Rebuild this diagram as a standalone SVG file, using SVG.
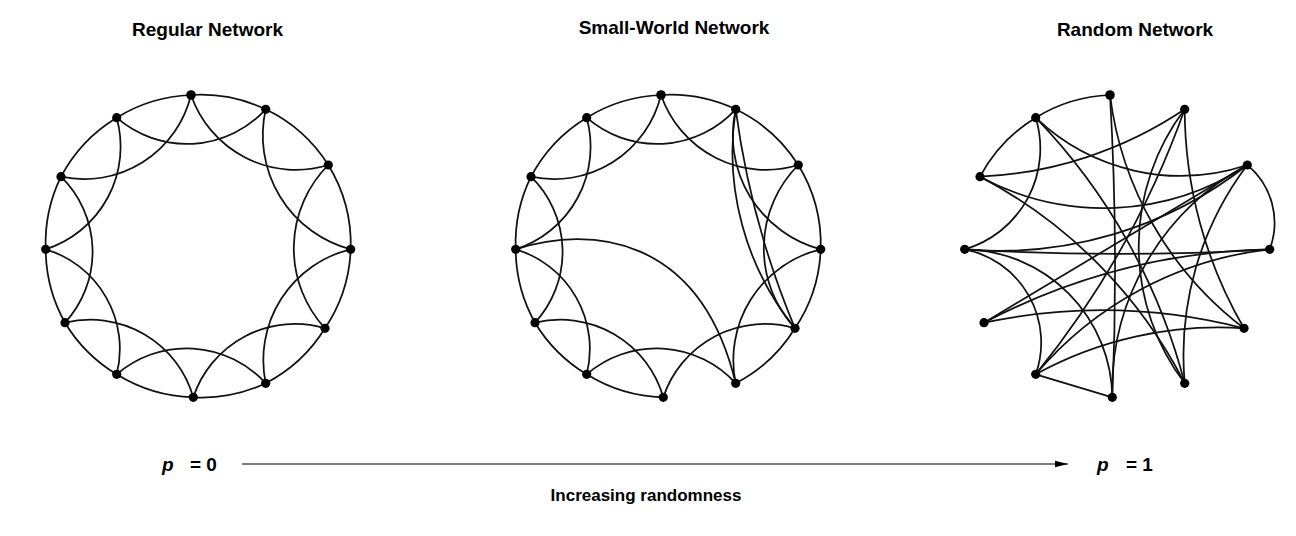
<svg xmlns="http://www.w3.org/2000/svg" width="1296" height="536" viewBox="0 0 1296 536">
<defs>
<style>
.e{fill:none;stroke:#111;stroke-width:1.75}
.n{fill:#000}
.t{font-family:"Liberation Sans",Arial,sans-serif;font-weight:bold;fill:#000}
.ax{stroke:#000;stroke-width:1.2;fill:none}
</style>
<marker id="ah" markerUnits="userSpaceOnUse" markerWidth="14" markerHeight="8" refX="13" refY="4" orient="auto">
<path d="M0,0.8 L13,4 L0,7.2 z" fill="#000"/>
</marker>
</defs>
<rect width="1296" height="536" fill="#fff"/>

<text class="t" x="207.5" y="36" font-size="19" text-anchor="middle">Regular Network</text>
<text class="t" x="674" y="34" font-size="19" text-anchor="middle">Small-World Network</text>
<text class="t" x="1135" y="36" font-size="19" text-anchor="middle">Random Network</text>

<!-- Regular network -->
<g id="regular">
<g id="regular-connectors">
<path class="e" d="M191,95 A152,152 0 0 1 265.7,109.3"/>
<path class="e" d="M265.7,109.3 A152,152 0 0 1 328.3,165"/>
<path class="e" d="M328.3,165 A152,152 0 0 1 350.7,249.3"/>
<path class="e" d="M350.7,249.3 A152,152 0 0 1 325,328.3"/>
<path class="e" d="M325,328.3 A152,152 0 0 1 265.7,383.3"/>
<path class="e" d="M265.7,383.3 A152,152 0 0 1 193.3,397.3"/>
<path class="e" d="M193.3,397.3 A152,152 0 0 1 116.7,374.3"/>
<path class="e" d="M116.7,374.3 A152,152 0 0 1 65,322.7"/>
<path class="e" d="M65,322.7 A152,152 0 0 1 45.7,249.3"/>
<path class="e" d="M45.7,249.3 A152,152 0 0 1 61,176.7"/>
<path class="e" d="M61,176.7 A152,152 0 0 1 116.7,117.7"/>
<path class="e" d="M116.7,117.7 A152,152 0 0 1 191,95"/>
<path class="e" d="M191,95 A111,111 0 0 0 328.3,165"/>
<path class="e" d="M265.7,109.3 A118,118 0 0 0 350.7,249.3"/>
<path class="e" d="M328.3,165 A118,118 0 0 0 325,328.3"/>
<path class="e" d="M350.7,249.3 A114,114 0 0 0 265.7,383.3"/>
<path class="e" d="M325,328.3 A107,107 0 0 0 193.3,397.3"/>
<path class="e" d="M265.7,383.3 A107,107 0 0 0 116.7,374.3"/>
<path class="e" d="M193.3,397.3 A107,107 0 0 0 65,322.7"/>
<path class="e" d="M116.7,374.3 A104,104 0 0 0 45.7,249.3"/>
<path class="e" d="M65,322.7 A105,105 0 0 0 61,176.7"/>
<path class="e" d="M45.7,249.3 A108,108 0 0 0 116.7,117.7"/>
<path class="e" d="M61,176.7 A110,110 0 0 0 191,95"/>
<path class="e" d="M116.7,117.7 A107,107 0 0 0 265.7,109.3"/>
</g>
<g id="reg-n1"><circle class="n" cx="191" cy="95" r="4.8"/></g>
<g id="reg-n2"><circle class="n" cx="265.7" cy="109.3" r="4.6"/></g>
<g id="reg-n3"><circle class="n" cx="328.3" cy="165" r="4.6"/></g>
<g id="reg-n4"><circle class="n" cx="350.7" cy="249.3" r="4.6"/></g>
<g id="reg-n5"><circle class="n" cx="325" cy="328.3" r="4.6"/></g>
<g id="reg-n6"><circle class="n" cx="265.7" cy="383.3" r="4.6"/></g>
<g id="reg-n7"><circle class="n" cx="193.3" cy="397.3" r="4.6"/></g>
<g id="reg-n8"><circle class="n" cx="116.7" cy="374.3" r="4.6"/></g>
<g id="reg-n9"><circle class="n" cx="65" cy="322.7" r="4.6"/></g>
<g id="reg-n10"><circle class="n" cx="45.7" cy="249.3" r="4.6"/></g>
<g id="reg-n11"><circle class="n" cx="61" cy="176.7" r="4.6"/></g>
<g id="reg-n12"><circle class="n" cx="116.7" cy="117.7" r="4.6"/></g>
</g>

<!-- Small-world network -->
<g id="smallworld" transform="translate(470,0)">
<g id="smallworld-connectors">
<path class="e" d="M191,95 A152,152 0 0 1 265.7,109.3"/>
<path class="e" d="M265.7,109.3 A152,152 0 0 1 328.3,165"/>
<path class="e" d="M328.3,165 A152,152 0 0 1 350.7,249.3"/>
<path class="e" d="M350.7,249.3 A152,152 0 0 1 325,328.3"/>
<path class="e" d="M325,328.3 A152,152 0 0 1 265.7,383.3"/>
<path class="e" d="M193.3,397.3 A152,152 0 0 1 116.7,374.3"/>
<path class="e" d="M116.7,374.3 A152,152 0 0 1 65,322.7"/>
<path class="e" d="M65,322.7 A152,152 0 0 1 45.7,249.3"/>
<path class="e" d="M45.7,249.3 A152,152 0 0 1 61,176.7"/>
<path class="e" d="M61,176.7 A152,152 0 0 1 116.7,117.7"/>
<path class="e" d="M116.7,117.7 A152,152 0 0 1 191,95"/>
<path class="e" d="M191,95 A111,111 0 0 0 328.3,165"/>
<path class="e" d="M265.7,109.3 A118,118 0 0 0 350.7,249.3"/>
<path class="e" d="M328.3,165 A118,118 0 0 0 325,328.3"/>
<path class="e" d="M350.7,249.3 A114,114 0 0 0 265.7,383.3"/>
<path class="e" d="M325,328.3 A107,107 0 0 0 193.3,397.3"/>
<path class="e" d="M265.7,383.3 A107,107 0 0 0 116.7,374.3"/>
<path class="e" d="M193.3,397.3 A107,107 0 0 0 65,322.7"/>
<path class="e" d="M116.7,374.3 A104,104 0 0 0 45.7,249.3"/>
<path class="e" d="M65,322.7 A105,105 0 0 0 61,176.7"/>
<path class="e" d="M45.7,249.3 A108,108 0 0 0 116.7,117.7"/>
<path class="e" d="M61,176.7 A110,110 0 0 0 191,95"/>
<path class="e" d="M116.7,117.7 A107,107 0 0 0 265.7,109.3"/>
<path class="e" d="M45.7,249.3 C120,225 230,235 265.7,383.3"/>
<path class="e" d="M265.7,109.3 A280,280 0 0 0 325,328.3"/>
<path class="e" d="M265.7,109.3 A860,860 0 0 0 325,328.3"/>
</g>
<g id="sw-n1"><circle class="n" cx="191" cy="95" r="4.8"/></g>
<g id="sw-n2"><circle class="n" cx="265.7" cy="109.3" r="4.6"/></g>
<g id="sw-n3"><circle class="n" cx="328.3" cy="165" r="4.6"/></g>
<g id="sw-n4"><circle class="n" cx="350.7" cy="249.3" r="4.6"/></g>
<g id="sw-n5"><circle class="n" cx="325" cy="328.3" r="4.6"/></g>
<g id="sw-n6"><circle class="n" cx="265.7" cy="383.3" r="4.6"/></g>
<g id="sw-n7"><circle class="n" cx="193.3" cy="397.3" r="4.6"/></g>
<g id="sw-n8"><circle class="n" cx="116.7" cy="374.3" r="4.6"/></g>
<g id="sw-n9"><circle class="n" cx="65" cy="322.7" r="4.6"/></g>
<g id="sw-n10"><circle class="n" cx="45.7" cy="249.3" r="4.6"/></g>
<g id="sw-n11"><circle class="n" cx="61" cy="176.7" r="4.6"/></g>
<g id="sw-n12"><circle class="n" cx="116.7" cy="117.7" r="4.6"/></g>
</g>

<!-- Random network -->
<g id="random" transform="translate(919,0)">
<g id="random-connectors">
<path class="e" d="M116.7,117.7 A152,152 0 0 1 191,95"/>
<path class="e" d="M61,176.7 A152,152 0 0 1 116.7,117.7"/>
<path class="e" d="M45.7,249.3 A105,105 0 0 0 116.7,117.7"/>
<path class="e" d="M116.7,117.7 A210,210 0 0 0 328.3,165"/>
<path class="e" d="M116.7,117.7 A600,600 0 0 1 265.7,383.3"/>
<path class="e" d="M61,176.7 A400,400 0 0 0 265.7,109.3"/>
<path class="e" d="M61,176.7 A260,260 0 0 0 328.3,165"/>
<path class="e" d="M265.7,383.3 A480,480 0 0 0 61,176.7"/>
<path class="e" d="M45.7,249.3 A400,400 0 0 0 328.3,165"/>
<path class="e" d="M45.7,249.3 A2500,2500 0 0 0 350.7,249.3"/>
<path class="e" d="M116.7,374.3 A95,95 0 0 0 45.7,249.3"/>
<path class="e" d="M193.3,397.3 A150,150 0 0 0 45.7,249.3"/>
<path class="e" d="M65,322.7 L328.3,165"/>
<path class="e" d="M350.7,249.3 A640,640 0 0 0 65,322.7"/>
<path class="e" d="M325,328.3 A570,570 0 0 0 65,322.7"/>
<path class="e" d="M193.3,397.3 L116.7,374.3"/>
<path class="e" d="M116.7,374.3 A900,900 0 0 0 265.7,109.3"/>
<path class="e" d="M116.7,374.3 A360,360 0 0 1 350.7,249.3"/>
<path class="e" d="M325,328.3 A380,380 0 0 0 116.7,374.3"/>
<path class="e" d="M191,95 A3000,3000 0 0 1 193.3,397.3"/>
<path class="e" d="M328.3,165 A255,255 0 0 0 193.3,397.3"/>
<path class="e" d="M265.7,109.3 A227,227 0 0 0 265.7,383.3"/>
<path class="e" d="M328.3,165 A316,316 0 0 0 265.7,383.3"/>
<path class="e" d="M265.7,109.3 A437,437 0 0 0 325,328.3"/>
<path class="e" d="M191,95 A346,346 0 0 0 325,328.3"/>
<path class="e" d="M328.3,165 A75,75 0 0 1 350.7,249.3"/>
</g>
<g id="rnd-n1"><circle class="n" cx="191" cy="95" r="4.8"/></g>
<g id="rnd-n2"><circle class="n" cx="265.7" cy="109.3" r="4.6"/></g>
<g id="rnd-n3"><circle class="n" cx="328.3" cy="165" r="4.6"/></g>
<g id="rnd-n4"><circle class="n" cx="350.7" cy="249.3" r="4.6"/></g>
<g id="rnd-n5"><circle class="n" cx="325" cy="328.3" r="4.6"/></g>
<g id="rnd-n6"><circle class="n" cx="265.7" cy="383.3" r="4.6"/></g>
<g id="rnd-n7"><circle class="n" cx="193.3" cy="397.3" r="4.6"/></g>
<g id="rnd-n8"><circle class="n" cx="116.7" cy="374.3" r="4.6"/></g>
<g id="rnd-n9"><circle class="n" cx="65" cy="322.7" r="4.6"/></g>
<g id="rnd-n10"><circle class="n" cx="45.7" cy="249.3" r="4.6"/></g>
<g id="rnd-n11"><circle class="n" cx="61" cy="176.7" r="4.6"/></g>
<g id="rnd-n12"><circle class="n" cx="116.7" cy="117.7" r="4.6"/></g>
</g>

<!-- Axis -->
<g id="axis">
<line class="ax" x1="242" y1="464" x2="1068" y2="464" marker-end="url(#ah)"/>
</g>
<text class="t" y="471" font-size="19"><tspan x="162" font-style="italic">p</tspan><tspan x="190">= 0</tspan></text>
<text class="t" y="471" font-size="19"><tspan x="1097" font-style="italic">p</tspan><tspan x="1126">= 1</tspan></text>
<text class="t" x="646" y="501" font-size="17" text-anchor="middle">Increasing randomness</text>
</svg>
